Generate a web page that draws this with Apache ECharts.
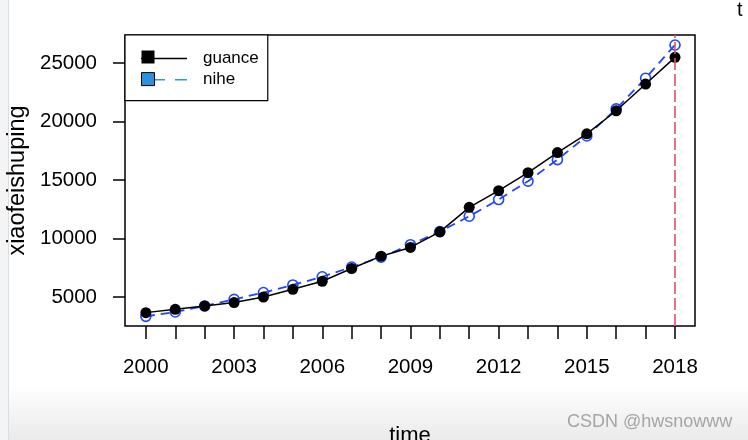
<!DOCTYPE html>
<html>
<head>
<meta charset="utf-8">
<script src="https://cdn.jsdelivr.net/npm/echarts@6/dist/echarts.min.js"></script>
<style>
html,body{margin:0;padding:0;background:#fff;}
#chart{width:748px;height:440px;}
</style>
</head>
<body>
<div id="chart"></div>
<script>
// ---- data ----
const years = [2000, 2001, 2002, 2003, 2004, 2005, 2006, 2007, 2008, 2009,
               2010, 2011, 2012, 2013, 2014, 2015, 2016, 2017, 2018];
const guance = [3663, 3946, 4229, 4520, 5000, 5660, 6345, 7434, 8488, 9234,
                10570, 12662, 14084, 15627, 17341, 18943, 20917, 23203, 25483];
const nihe = [3346, 3720, 4230, 4800, 5380, 6030, 6730, 7560, 8400, 9470,
              10590, 11900, 13330, 14900, 16740, 18760, 21080, 23700, 26540];
const xTickLabels = [2000, 2003, 2006, 2009, 2012, 2015, 2018];
const yTickLabels = [5000, 10000, 15000, 20000, 25000];
const seriesNames = ['guance', 'nihe'];
const markYear = 2018;

const FONT = '"Liberation Sans", Arial, Helvetica, sans-serif';
const chart = echarts.init(document.getElementById('chart'), null, {renderer: 'canvas'});

const pair = (arr) => years.map((y, i) => [y, arr[i]]);

const option = {
  animation: false,
  backgroundColor: '#ffffff',
  grid: {
    left: 125, right: 53, top: 35, bottom: 114,
    outerBoundsMode: 'none', containLabel: false,
    show: true, borderColor: '#000', borderWidth: 1.5, backgroundColor: 'transparent'
  },
  xAxis: {
    type: 'value',
    min: 1999.29, max: 2018.68,
    name: 'time', nameLocation: 'middle', nameGap: 99,
    nameTextStyle: {fontFamily: FONT, fontSize: 22, color: '#000'},
    axisLine: {show: false},
    splitLine: {show: false},
    axisTick: {show: true, length: 13, inside: false, customValues: years,
               lineStyle: {color: '#000', width: 1.5}},
    axisLabel: {customValues: xTickLabels, margin: 31, fontFamily: FONT, fontSize: 20.5, color: '#000',
                formatter: (v) => String(v)}
  },
  yAxis: {
    type: 'value',
    min: 2520, max: 27394,
    name: 'xiaofeishuping', nameLocation: 'middle', nameGap: 94, nameRotate: 90,
    nameTextStyle: {fontFamily: FONT, fontSize: 23.5, color: '#000'},
    axisLine: {show: false},
    splitLine: {show: false},
    axisTick: {show: true, length: 12, inside: false, customValues: yTickLabels,
               lineStyle: {color: '#000', width: 1.5}},
    axisLabel: {customValues: yTickLabels, margin: 28, fontFamily: FONT, fontSize: 20.5, color: '#000',
                formatter: (v) => String(v)}
  },
  legend: [
    {
      id: 'legLines', z: 4,
      left: 125, top: 35, orient: 'vertical',
      padding: [15, 9, 12.5, 16],
      borderColor: '#000', borderWidth: 1.2, backgroundColor: '#fff', borderRadius: 0,
      itemWidth: 46, itemHeight: 14, itemGap: 4.2,
      symbolKeepAspect: true,
      selectedMode: false,
      textStyle: {fontFamily: FONT, fontSize: 17, color: '#000', lineHeight: 14, padding: [0, 0, 0, 11]},
      data: [
        {name: seriesNames[0], icon: 'path://M0,0H46V1.6H0Z', itemStyle: {color: '#000', borderWidth: 0}},
        {name: seriesNames[1], icon: 'path://M0,0H24V1.6H0Z M34,0H46V1.6H34Z', itemStyle: {color: '#2a9be8', borderWidth: 0}}
      ]
    },
    {
      id: 'legSquares', z: 5,
      left: 125, top: 35, orient: 'vertical',
      padding: [15.5, 0, 0, 16],
      itemWidth: 13, itemHeight: 13, itemGap: 8.6,
      selectedMode: false,
      formatter: () => ' ',
      textStyle: {fontSize: 1, lineHeight: 1, color: 'rgba(0,0,0,0)'},
      data: [
        {name: seriesNames[0], icon: 'rect', itemStyle: {color: '#000', borderWidth: 0}},
        {name: seriesNames[1], icon: 'rect', itemStyle: {color: '#2c92e0', borderColor: '#000', borderWidth: 1}}
      ]
    }
  ],
  graphic: [
    {type: 'rect', z: -10, silent: true, shape: {x: 0, y: 385, width: 748, height: 55},
     style: {fill: new echarts.graphic.LinearGradient(0, 0, 0, 1, [
       {offset: 0, color: '#ffffff'}, {offset: 1, color: '#eaeaea'}])}},
    {type: 'rect', z: -9, silent: true, shape: {x: 0, y: 0, width: 8, height: 440},
     style: {fill: '#f3f4f6'}},
    {type: 'line', z: -9, silent: true, shape: {x1: 8.5, y1: 0, x2: 8.5, y2: 440},
     style: {stroke: '#dddddd', lineWidth: 1}},
    {type: 'text', silent: true, left: 567, top: 413,
     style: {text: 'CSDN @hwsnowww', font: '18px ' + FONT, fill: '#a5a5a5'}},
    {type: 'text', silent: true, left: 737, top: 0,
     style: {text: 't', font: '20px ' + FONT, fill: '#000'}}
  ],
  series: [
    {
      name: seriesNames[1], type: 'line', z: 2,
      data: pair(nihe),
      symbol: 'circle', symbolSize: 10,
      itemStyle: {color: 'rgba(0,0,0,0)', borderColor: '#1f45ff', borderWidth: 1.6},
      lineStyle: {color: '#1f45ff', width: 1.8, type: [9, 6]},
      markLine: {
        silent: true, symbol: ['none', 'none'], label: {show: false},
        lineStyle: {color: '#df536b', width: 1.6, type: [12, 4]},
        data: [{xAxis: markYear}]
      }
    },
    {
      name: seriesNames[0], type: 'line', z: 3,
      data: pair(guance),
      symbol: 'circle', symbolSize: 11,
      itemStyle: {color: '#000', borderWidth: 0},
      lineStyle: {color: '#000', width: 1.5}
    }
  ]
};
chart.setOption(option);
</script>
</body>
</html>
